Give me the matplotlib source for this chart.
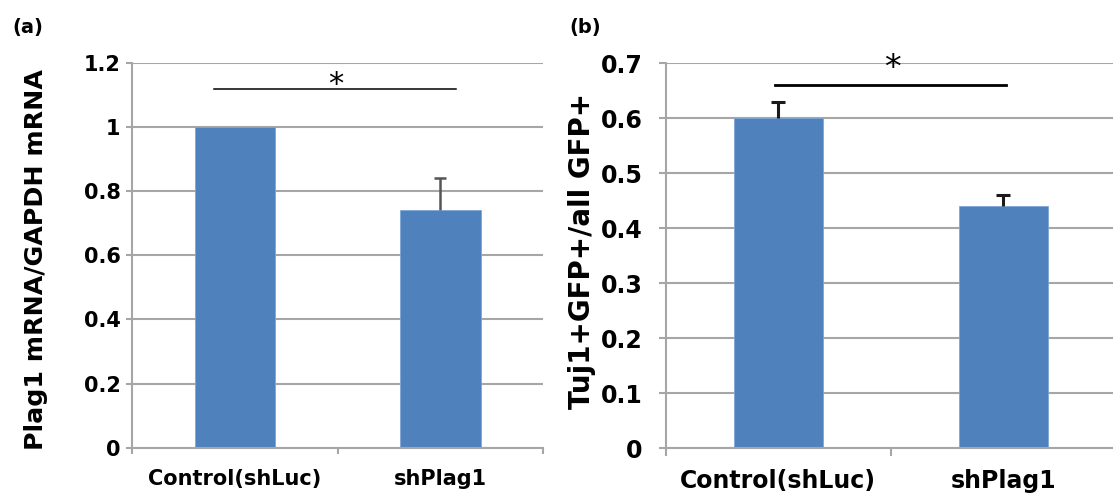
import numpy as np
import matplotlib.pyplot as plt

# data
groups = ['Control(shLuc)', 'shPlag1']
mrna = [1.0, 0.74]
mrna_err = [0.0, 0.10]
tuj1 = [0.60, 0.44]
tuj1_err = [0.03, 0.02]

BLUE = '#4F81BD'
GRID = '#a6a6a6'

fig = plt.figure(figsize=(11.13, 5.01), dpi=100)
plt.rcParams['font.family'] = 'DejaVu Sans'


def setup_axes(ax, ymax, ystep, fs, tick_len, tick_pad, xpad):
    ax.set_xlim(-0.5, 1.5)
    ax.set_ylim(0, ymax)
    ticks = np.arange(0, ymax + ystep / 2, ystep)
    ax.set_yticks(ticks)
    ax.set_yticklabels(['%g' % round(v, 2) for v in ticks],
                       fontsize=fs, fontweight='bold')
    ax.yaxis.grid(True, color=GRID, lw=1.5)
    ax.set_axisbelow(True)
    for s in ['top', 'right']:
        ax.spines[s].set_visible(False)
    for s in ['left', 'bottom']:
        ax.spines[s].set_color(GRID)
        ax.spines[s].set_linewidth(1.5)
    ax.tick_params(axis='y', length=tick_len, width=1.5, color=GRID, pad=tick_pad)
    # category boundary ticks below, labels centered
    ax.set_xticks([-0.5, 0.5, 1.5])
    ax.set_xticklabels([])
    ax.tick_params(axis='x', which='major', length=tick_len, width=1.5, color=GRID)
    ax.set_xticks([0, 1], minor=True)
    ax.set_xticklabels(groups, minor=True, fontsize=fs, fontweight='bold')
    ax.tick_params(axis='x', which='minor', length=0, pad=xpad)


def upper_errbar(ax, x, y, err, color, lw, cap):
    x = np.asarray(x)
    y = np.asarray(y)
    err = np.asarray(err)
    m = err > 0
    ax.vlines(x[m], y[m], y[m] + err[m], color=color, lw=lw, zorder=3)
    ax.plot(x[m], y[m] + err[m], ls='none', marker='_', ms=cap, mew=lw,
            color=color, zorder=3)


# ---------------- panel (a)
ax1 = fig.add_axes([0.119, 0.1064, 0.369, 0.768])
x = np.arange(len(groups))
ax1.bar(x, mrna, width=0.39, color=BLUE, edgecolor='#7fa6d6', lw=0.6, zorder=2)
upper_errbar(ax1, x, mrna, mrna_err, '#555555', 1.8, 9)
setup_axes(ax1, 1.2, 0.2, 15, 4.5, 4, 15)
ax1.plot([-0.105, 1.076], [1.119, 1.119], color='black', lw=1.1, clip_on=False)
ax1.text(0.49, 1.107, '*', ha='center', va='baseline', fontsize=22)

# ---------------- panel (b)
ax2 = fig.add_axes([0.598, 0.1052, 0.4047, 0.7685])
ax2.bar(x, tuj1, width=0.395, color=BLUE, edgecolor='#7fa6d6', lw=0.6, zorder=2)
upper_errbar(ax2, x, tuj1, tuj1_err, '#1a1a1a', 2.2, 10)
setup_axes(ax2, 0.7, 0.1, 17, 5.4, 11, 15)
ax2.plot([-0.012, 1.011], [0.66, 0.66], color='black', lw=2, clip_on=False)
ax2.text(0.505, 0.674, '*', ha='center', va='baseline', fontsize=24, clip_on=False)

# axis titles and panel letters
fig.text(36 / 1113, 1 - 260 / 501, 'Plag1 mRNA/GAPDH mRNA', rotation=90,
         ha='center', va='center', fontsize=18.2, fontweight='bold')
fig.text(582 / 1113, 1 - 251 / 501, 'Tuj1+GFP+/all GFP+', rotation=90,
         ha='center', va='center', fontsize=20, fontweight='bold')
fig.text(28 / 1113, 1 - 27 / 501, '(a)', ha='center', va='center',
         fontsize=14, fontweight='bold')
fig.text(585 / 1113, 1 - 27 / 501, '(b)', ha='center', va='center',
         fontsize=14, fontweight='bold')

fig.savefig('out.png', dpi=100)
